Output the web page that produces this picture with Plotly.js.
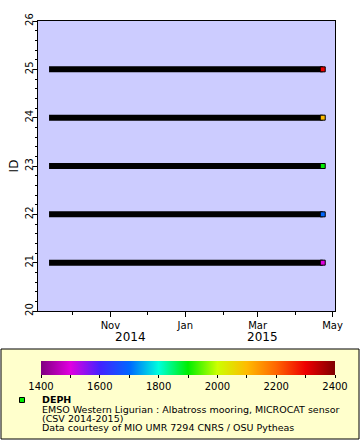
<!DOCTYPE html>
<html>
<head>
<meta charset="utf-8">
<script src="https://cdn.plot.ly/plotly-3.0.1.min.js"></script>
<style>html,body{margin:0;padding:0;background:#fff;}#chart{width:360px;height:440px;}</style>
</head>
<body>
<div id="chart"></div>
<script>
// ---- data ----
const sensorIds = [21, 22, 23, 24, 25];
const sensorDepths = [1500, 1700, 1900, 2100, 2300];
const startDates = ['2014-09-12', '2014-09-12', '2014-09-12', '2014-09-12', '2014-09-12'];
const endDates = ['2015-04-23', '2015-04-23', '2015-04-23', '2015-04-23', '2015-04-23'];
const xTickLabels = ['Nov', 'Jan', 'Mar', 'May'];
const yearLabels = ['2014', '2015'];
const colorbarTicks = [1400, 1500, 1600, 1700, 1800, 1900, 2000, 2100, 2200, 2300, 2400];
const colorbarTickText = ['1400', '', '1600', '', '1800', '', '2000', '', '2200', '', '2400'];
const legendLines = ['EMSO Western Ligurian : Albatross mooring, MICROCAT sensor', '(CSV 2014-2015)', 'Data courtesy of MIO UMR 7294 CNRS / OSU Pytheas'];

// ---- layout geometry ----
const W = 360, H = 440;
const mL = 38, mR = 25, mT = 21, mB = 129;
const pw = W - mL - mR, ph = H - mT - mB;
const px = x => (x - mL) / pw;
const py = y => (H - mB - y) / ph;

const colorscale = [
  [0.0, '#800080'], [0.1, '#e000e0'], [0.2, '#4422ff'], [0.3, '#0066ff'],
  [0.4, '#00ffdd'], [0.5, '#00ee00'], [0.6, '#ccff00'], [0.7, '#ffbb00'],
  [0.8, '#ff6600'], [0.9, '#ee0000'], [1.0, '#800000']
];

// line segments
const lx = [], ly = [];
sensorIds.forEach((id, i) => { lx.push(startDates[i], endDates[i], null); ly.push(id, id, null); });

const traces = [
  { type: 'scatter', mode: 'lines', x: lx, y: ly, line: { color: '#000', width: 6 }, hoverinfo: 'skip', showlegend: false },
  { type: 'scatter', mode: 'markers', x: endDates, y: sensorIds, showlegend: false,
    marker: { symbol: 'square', size: 5, color: sensorDepths, cmin: 1400, cmax: 2400, colorscale: colorscale,
      line: { color: '#000', width: 1 },
      colorbar: { orientation: 'h', thickness: 14, thicknessmode: 'pixels', len: 294, lenmode: 'pixels',
        x: px(41), xanchor: 'left', y: py(361), yanchor: 'top', xpad: 0, ypad: 0, outlinewidth: 0,
        ticks: 'outside', ticklen: 3, tickcolor: '#000', tickmode: 'array', tickvals: colorbarTicks, ticktext: colorbarTickText,
        tickfont: { family: 'DejaVu Sans', size: 10, color: '#000' } } } }
];

const annotations = [
  { xref: 'paper', yref: 'paper', x: px(130), y: py(337), xanchor: 'center', yanchor: 'middle', text: yearLabels[0], showarrow: false, font: { family: 'DejaVu Sans', size: 12, color: '#000' } },
  { xref: 'paper', yref: 'paper', x: px(262), y: py(337), xanchor: 'center', yanchor: 'middle', text: yearLabels[1], showarrow: false, font: { family: 'DejaVu Sans', size: 12, color: '#000' } },
  { xref: 'paper', yref: 'paper', x: px(41), y: py(399.5), xanchor: 'left', yanchor: 'middle', borderpad: 0, text: '<b>DEPH</b>', showarrow: false, font: { family: 'DejaVu Sans', size: 9.5, color: '#000' } }
];
legendLines.forEach((t, i) => annotations.push({ xref: 'paper', yref: 'paper', x: px(41), y: py(409 + i * 9.2), xanchor: 'left', yanchor: 'middle', borderpad: 0, text: t, showarrow: false, font: { family: 'DejaVu Sans', size: 9.5, color: '#000' } }));

const layout = {
  width: W, height: H,
  margin: { l: mL, r: mR, t: mT, b: mB, pad: 0 },
  paper_bgcolor: '#fff', plot_bgcolor: '#ccccff',
  font: { family: 'DejaVu Sans', size: 10, color: '#000' },
  xaxis: {
    type: 'date', range: ['2014-09-03', '2015-05-03'],
    tickmode: 'array', tickvals: ['2014-11-01', '2015-01-01', '2015-03-01', '2015-05-01'], ticktext: xTickLabels,
    ticks: 'outside', ticklen: 5, tickcolor: '#000', showgrid: false, zeroline: false,
    showline: true, linecolor: '#000', linewidth: 1, mirror: true,
    minor: { ticks: 'outside', dtick: 'M1', tick0: '2014-10-01', ticklen: 3, tickcolor: '#000', showgrid: false },
    tickfont: { family: 'DejaVu Sans', size: 10 }
  },
  yaxis: {
    range: [20, 26], dtick: 1, tick0: 20, tickangle: -90, ticklabelstandoff: -4,
    ticks: 'outside', ticklen: 4, tickcolor: '#000', showgrid: false, zeroline: false,
    showline: true, linecolor: '#000', linewidth: 1, mirror: true,
    minor: { ticks: 'outside', dtick: 0.2, ticklen: 2, tickcolor: '#000', showgrid: false },
    tickfont: { family: 'DejaVu Sans', size: 10 },
    title: { text: 'ID', font: { family: 'DejaVu Sans', size: 12 }, standoff: 2 }
  },
  shapes: [
    { type: 'rect', xref: 'paper', yref: 'paper', x0: px(1), x1: px(359), y0: py(439), y1: py(349), fillcolor: '#ffffcc', line: { color: '#000', width: 1 }, layer: 'below' },
    { type: 'rect', xref: 'paper', yref: 'paper', x0: px(19.5), x1: px(24.5), y0: py(402.5), y1: py(397.5), fillcolor: '#00ee00', line: { color: '#000', width: 1 }, layer: 'above' }
  ],
  annotations: annotations,
  showlegend: false
};

Plotly.newPlot('chart', traces, layout, { displayModeBar: false, staticPlot: true });
</script>
</body>
</html>
